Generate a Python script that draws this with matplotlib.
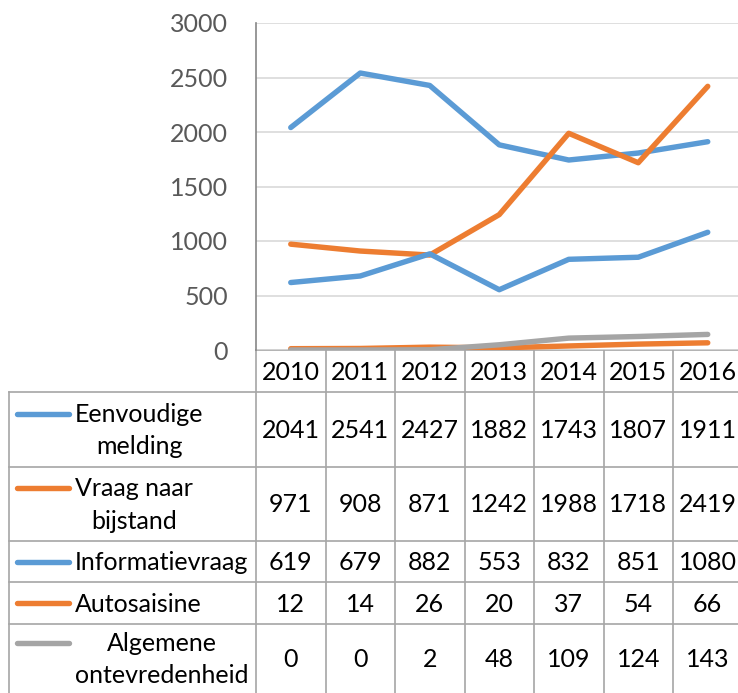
import matplotlib.pyplot as plt
from matplotlib.lines import Line2D

plt.rcParams['font.family'] = ['Lato', 'DejaVu Sans']

# data
years = ['2010', '2011', '2012', '2013', '2014', '2015', '2016']
series_names = ['Eenvoudige\nmelding', 'Vraag naar\nbijstand', 'Informatievraag',
                'Autosaisine', 'Algemene\nontevredenheid']
eenvoudige = [2041, 2541, 2427, 1882, 1743, 1807, 1911]
vraag = [971, 908, 871, 1242, 1988, 1718, 2419]
informatie = [619, 679, 882, 553, 832, 851, 1080]
autosaisine = [12, 14, 26, 20, 37, 54, 66]
algemene = [0, 0, 2, 48, 109, 124, 143]
series_values = [eenvoudige, vraag, informatie, autosaisine, algemene]
colors = ['#5B9BD5', '#ED7D31', '#5B9BD5', '#ED7D31', '#A5A5A5']
yticks = [0, 500, 1000, 1500, 2000, 2500, 3000]

W, H = 738, 693
fig = plt.figure(figsize=(W / 100, H / 100), dpi=100)

# layout in pixels
x0 = 256
colw = 69.5
y_top, y_zero = 23, 350
row_edges = [392, 467, 541, 582, 624, 700]
border = '#A6A6A6'
lw_series = 3.9

ax = fig.add_axes([x0 / W, (H - y_zero) / H, 7 * colw / W, (y_zero - y_top) / H])
for vals, c in zip(series_values, colors):
    ax.plot(range(len(years)), vals, color=c, lw=lw_series, solid_capstyle='round',
            solid_joinstyle='round', zorder=3)
ax.set_xlim(-0.5, 6.5)
ax.set_ylim(0, 3000)
ax.set_yticks(yticks)
ax.set_yticklabels([str(t) for t in yticks], color='#595959', fontsize=18)
ax.tick_params(axis='y', length=0, pad=20)
ax.set_xticks([])
ax.grid(axis='y', color='#D9D9D9', lw=1.2)
ax.set_axisbelow(True)
for s in ['top', 'right', 'bottom']:
    ax.spines[s].set_visible(False)
ax.spines['left'].set_color('#868686')
ax.spines['left'].set_linewidth(1.2)
ax.patch.set_alpha(0)

# data table drawn in pixel coordinates
ov = fig.add_axes([0, 0, 1, 1], zorder=-1)
ov.set_xlim(0, W)
ov.set_ylim(H, 0)
ov.axis('off')

right = x0 + 7 * colw
# horizontal lines
ov.add_line(Line2D([x0, right], [y_zero, y_zero], color=border, lw=1.2))
for y in row_edges[:-1]:
    ov.add_line(Line2D([9, right], [y, y], color=border, lw=1.2))
# vertical lines
ov.add_line(Line2D([9, 9], [row_edges[0], H], color=border, lw=1.2))
for i in range(8):
    xx = x0 + i * colw
    ov.add_line(Line2D([xx, xx], [y_zero, H], color=border, lw=1.2))

fs = 18
for i, yr in enumerate(years):
    ov.text(x0 + colw * (i + 0.5), (y_zero + row_edges[0]) / 2 + 1, yr,
            ha='center', va='center', fontsize=fs, color='black')

for r, (name, vals, c) in enumerate(zip(series_names, series_values, colors)):
    top, bot = row_edges[r], min(row_edges[r + 1], H)
    yc = (top + bot) / 2
    two = '\n' in name
    ov.text(75, yc + 1, name, ha='left', va='center', multialignment='center',
            fontsize=fs, color='black', linespacing=1.5)
    key_y = yc - 16 if two else yc
    ov.add_line(Line2D([17, 69], [key_y, key_y], color=c, lw=lw_series,
                       solid_capstyle='round'))
    for i, v in enumerate(vals):
        ov.text(x0 + colw * (i + 0.5), yc + 1, str(v), ha='center', va='center',
                fontsize=fs, color='black')

fig.savefig('out.png', dpi=100)
